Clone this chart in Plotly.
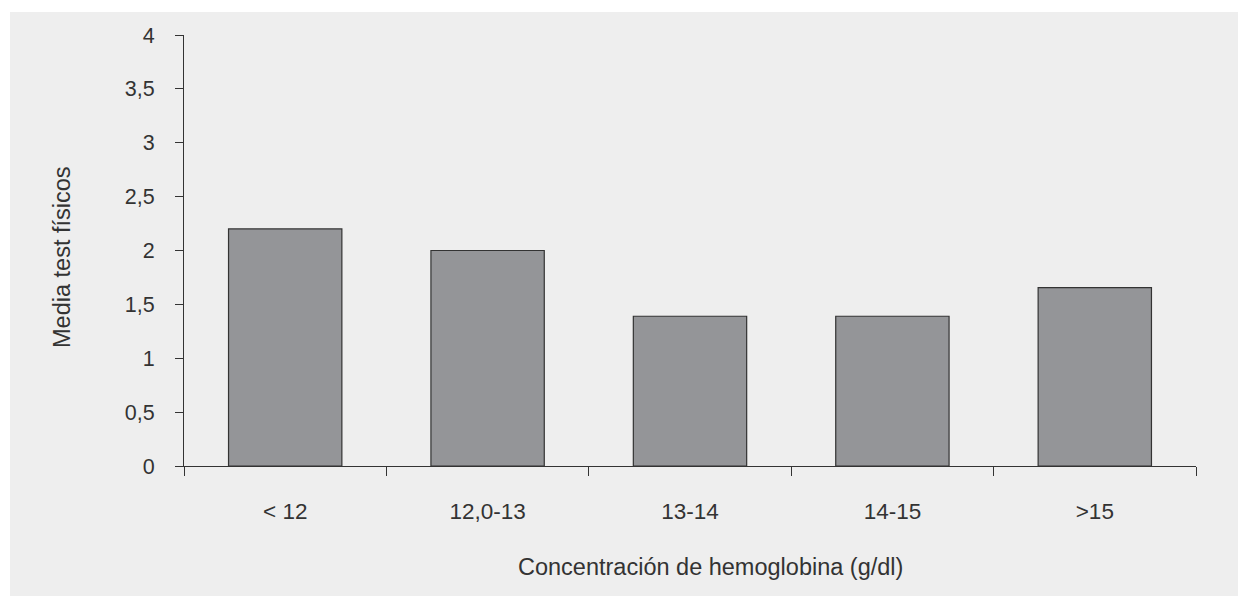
import plotly.graph_objects as go

categories = ["< 12", "12,0-13", "13-14", "14-15", ">15"]
values = [2.2, 2.0, 1.39, 1.39, 1.655]
y_tickvals = [0, 0.5, 1, 1.5, 2, 2.5, 3, 3.5, 4]
y_ticktext = ["0", "0,5", "1", "1,5", "2", "2,5", "3", "3,5", "4"]
x_title = "Concentración de hemoglobina (g/dl)"
y_title = "Media test físicos"

W, H = 1238, 596
ml, mr, mt, mb = 184, 42, 35, 130
pw, ph = W - ml - mr, H - mt - mb

def px_x(x):
    return (x - ml) / pw

def px_y(y):
    return (H - mb - y) / ph

FONT = "Liberation Sans, Arial, sans-serif"
TXT = "#333333"
BG = "#eeeeee"

fig = go.Figure(
    go.Bar(
        x=categories,
        y=values,
        marker=dict(color="#949598", line=dict(color="#333333", width=1.2)),
        hoverinfo="skip",
    )
)

fig.update_layout(
    width=W,
    height=H,
    margin=dict(l=ml, r=mr, t=mt, b=mb, pad=0),
    paper_bgcolor="white",
    plot_bgcolor=BG,
    bargap=0.44,
    showlegend=False,
    font=dict(family=FONT, size=22, color=TXT),
    shapes=[
        dict(
            type="rect", xref="paper", yref="paper", layer="below",
            x0=px_x(10), x1=px_x(W + 5), y0=px_y(H + 5), y1=px_y(12),
            fillcolor=BG, line=dict(width=0),
        )
    ],
    annotations=[
        dict(
            text=x_title, xref="paper", yref="paper",
            x=px_x(710), y=px_y(567), xanchor="center", yanchor="middle",
            showarrow=False, font=dict(size=23.5, color=TXT),
        ),
        dict(
            text=y_title, xref="paper", yref="paper",
            x=px_x(62), y=px_y(257), xanchor="center", yanchor="middle",
            textangle=-90, showarrow=False, font=dict(size=23.5, color=TXT),
        ),
    ],
)

fig.update_xaxes(
    range=[-0.5, 4.5],
    showline=True, linecolor="#333333", linewidth=1.2,
    ticks="outside", tickson="boundaries", ticklen=9, tickcolor="#333333", tickwidth=1.2,
    showgrid=False, zeroline=False,
    ticklabelstandoff=25,
    tickfont=dict(size=22.5, color=TXT),
)

fig.update_yaxes(
    range=[0, 4],
    tickvals=y_tickvals, ticktext=y_ticktext,
    showline=True, linecolor="#333333", linewidth=1.2,
    ticks="outside", ticklen=8, tickcolor="#333333", tickwidth=1.2,
    showgrid=False, zeroline=False,
    ticklabelstandoff=16,
    tickfont=dict(size=21.5, color=TXT),
)

fig.write_html("out.html", config={"displayModeBar": False})
